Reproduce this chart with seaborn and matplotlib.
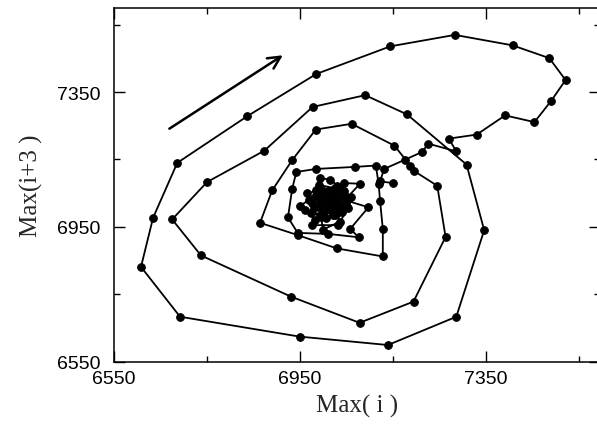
import numpy as np
import matplotlib
matplotlib.use("Agg")
import matplotlib.pyplot as plt
import seaborn as sns

# Return map of successive maxima (time order, spiralling outwards)
cluster_x = [7010, 7040, 6990, 6975, 7030, 7060, 7015, 6992, 6985, 7050, 7005, 6960,
             6950, 6985, 7045, 7079, 7050, 7000, 6973, 6982, 7020, 7035, 7000, 6990,
             7030, 6965, 7010, 7054, 7031, 6975, 7020, 7040, 6998, 7025, 7005, 7035,
             6995, 7015, 7045, 6980, 7025, 7000, 7040, 6988, 7020, 7010, 7030, 6970,
             7012, 7048, 6995, 7022, 7097, 7058, 7076, 7011]
cluster_y = [7030, 7060, 7075, 7020, 6990, 7040, 7090, 7095, 7060, 7010, 6975, 7000,
             7012, 7045, 7080, 7078, 7035, 6990, 6990, 6970, 7050, 6965, 6942, 7010,
             7070, 7050, 7005, 7005, 6955, 6955, 7020, 7045, 7060, 6985, 7035, 7015,
             7040, 7000, 7055, 7005, 7065, 7025, 6995, 7045, 6985, 7055, 7030, 7030,
             7010, 7020, 6980, 7040, 7008, 6944, 6919, 6929]

inner_x = [6945, 6924, 6933, 6942, 6985, 7068, 7113, 7119, 7122, 7128, 7128, 7029,
           6946, 6864, 6890, 6933, 6984, 7061, 7153, 7187, 7194, 7245, 7263, 7194,
           7078, 6930, 6737, 6675, 6750, 6873, 6977, 7090, 7180]
inner_y = [6932, 6978, 7062, 7113, 7122, 7128, 7132, 7078, 7028, 6944, 6862, 6886,
           6925, 6962, 7058, 7148, 7239, 7256, 7191, 7132, 7117, 7072, 6920, 6728,
           6665, 6743, 6865, 6972, 7083, 7176, 7306, 7341, 7284]

outer_x = [7308, 7346, 7286, 7139, 6949, 6692, 6608, 6634, 6686, 6837, 6985, 7144,
           7283, 7407, 7486, 7521, 7490, 7454, 7391, 7330, 7270, 7286]
outer_y = [7135, 6940, 6683, 6599, 6624, 6683, 6831, 6977, 7140, 7279, 7404, 7486,
           7520, 7489, 7451, 7386, 7324, 7261, 7281, 7224, 7212, 7174]

tail_x = [7226, 7212, 7175, 7131, 7122, 7150]
tail_y = [7197, 7172, 7149, 7122, 7085, 7080]

max_i = cluster_x + inner_x + outer_x + tail_x
max_i3 = cluster_y + inner_y + outer_y + tail_y

major_ticks = [6550, 6950, 7350]
minor_ticks = [6750, 7150, 7550]

arrow_start = (6664, 7237)
arrow_end = (6918, 7464)

sns.set_theme(style="ticks")
plt.rcParams["font.family"] = ["Liberation Sans", "DejaVu Sans"]

fig = plt.figure(figsize=(5.97, 4.27), dpi=100)
ax = fig.add_axes([0.191, 0.151, 0.814, 0.828])

sns.lineplot(x=max_i, y=max_i3, sort=False, estimator=None, color="black",
             linewidth=1.3, marker="o", markersize=5.5, markeredgecolor="black",
             markerfacecolor="black", ax=ax)

ax.annotate("", xy=arrow_end, xytext=arrow_start,
            arrowprops=dict(arrowstyle="->", lw=1.8, color="black", mutation_scale=22))

ax.set_xlim(6550, 7595)
ax.set_ylim(6550, 7600)
ax.set_xticks(major_ticks)
ax.set_yticks(major_ticks)
ax.set_xticks(minor_ticks, minor=True)
ax.set_yticks(minor_ticks, minor=True)
ax.tick_params(which="both", direction="in", top=True, right=True, colors="black",
               labelsize=14, width=1.0)
ax.tick_params(which="major", length=8)
ax.tick_params(which="minor", length=4.5)
ax.tick_params(axis="y", pad=10)
ax.tick_params(axis="x", pad=6)
for s in ax.spines.values():
    s.set_linewidth(1.1)
    s.set_color("black")

ax.set_xlabel("Max( i )", fontfamily="Liberation Serif", fontsize=18, labelpad=5)
ax.set_ylabel("Max(i+3 )", fontfamily="Liberation Serif", fontsize=18, labelpad=10)

fig.savefig("out.png", dpi=100)
